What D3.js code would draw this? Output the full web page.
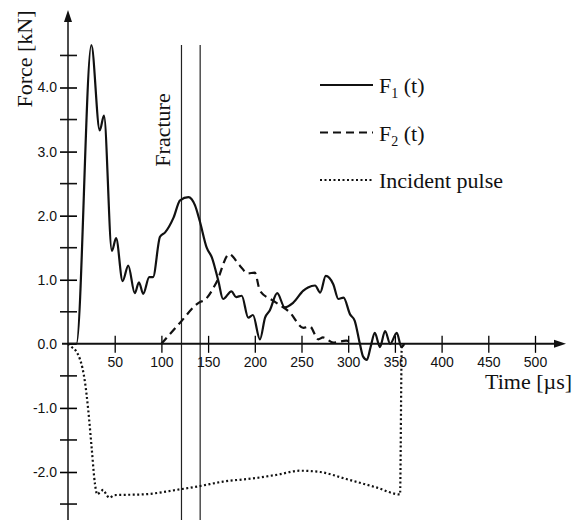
<!DOCTYPE html>
<html>
<head>
<meta charset="utf-8">
<script src="https://cdn.jsdelivr.net/npm/d3@7"></script>
<style>
  body { margin: 0; background: #fff; }
  .tick text { font-family: "Liberation Sans", Arial, sans-serif; font-size: 14px; fill: #111; }
  .serif { font-family: "Liberation Serif", "Times New Roman", serif; fill: #111; }
</style>
</head>
<body>
<div id="chart"></div>
<script>
// F1(t) - solid line
var f1Time = [0, 9, 25, 34, 38.5, 47, 51.5, 58.5, 64.5, 71.5, 76, 80.5, 87, 91, 98.5, 104, 113, 120, 129, 136, 141, 148.5, 154, 161, 166, 175, 180, 186, 193, 198, 205.5, 211, 216, 224, 232, 241, 252, 257, 264.5, 270, 276, 284, 289.5, 295, 302, 307, 312.5, 316, 320, 324, 328.5, 334, 339.5, 345, 352, 357, 360];
var f1Force = [0, 0, 4.66, 3.33, 3.56, 1.45, 1.65, 0.98, 1.22, 0.79, 0.96, 0.78, 1.04, 1.04, 1.67, 1.74, 1.97, 2.24, 2.29, 2.16, 1.92, 1.50, 1.35, 0.98, 0.70, 0.82, 0.73, 0.75, 0.41, 0.45, 0.07, 0.41, 0.52, 0.79, 0.57, 0.64, 0.83, 0.88, 0.91, 0.80, 1.06, 0.93, 0.70, 0.72, 0.46, 0.36, 0.0, -0.2, -0.25, -0.05, 0.17, -0.05, 0.2, 0.0, 0.17, -0.05, 0];

// F2(t) - dashed line
var f2Time = [100, 120, 141, 146, 159, 172.5, 184, 192.5, 200, 205.5, 220, 237.5, 252, 259, 268, 273, 284, 298, 305];
var f2Force = [0, 0.33, 0.65, 0.68, 0.96, 1.40, 1.22, 1.10, 1.11, 0.83, 0.67, 0.49, 0.25, 0.27, 0.07, 0.10, 0.02, 0.05, 0];

// Incident pulse - dotted line
var incTime = [0, 4, 9, 12.8, 15.5, 18.2, 21.8, 25.3, 28.9, 31.4, 34, 37.8, 41, 44.2, 50, 80, 120, 141, 166, 198, 225, 248, 270, 298, 330, 355.5, 357.3, 357.5];
var incForce = [0, -0.05, -0.12, -0.24, -0.38, -0.6, -1.05, -1.62, -2.19, -2.35, -2.32, -2.28, -2.35, -2.40, -2.36, -2.35, -2.27, -2.22, -2.15, -2.10, -2.04, -1.98, -2.0, -2.11, -2.24, -2.35, -0.05, 0];

var xTicks = [50, 100, 150, 200, 250, 300, 350, 400, 450, 500];
var yTicks = [-2, -1, 0, 1, 2, 3, 4];
var yMinorTicks = [-2.5, -1.5, -0.5, 0.5, 1.5, 2.5, 3.5, 4.5];
var fractureTimes = [121.5, 141.5];

var legendItems = [
  { sub: "1", dash: null },
  { sub: "2", dash: "8,5" },
  { label: "Incident pulse", dash: "2,2.5" }
];

var width = 583, height = 520;

var svg = d3.select("#chart").append("svg")
  .attr("width", width)
  .attr("height", height);

var x = d3.scaleLinear().domain([0, 500]).range([68, 535]);
var y = d3.scaleLinear().domain([-2, 4]).range([472, 87.5]);

function zip(ts, fs) {
  return ts.map(function (t, i) { return { t: t, f: fs[i] }; });
}

// fracture lines
svg.selectAll(".fracture")
  .data(fractureTimes)
  .enter().append("line")
  .attr("x1", d => x(d)).attr("x2", d => x(d))
  .attr("y1", 45).attr("y2", height)
  .attr("stroke", "#222").attr("stroke-width", 1.2);

svg.append("text")
  .attr("class", "serif")
  .attr("transform", "translate(" + (x(121.5) - 11) + ",130) rotate(-90)")
  .attr("text-anchor", "middle")
  .style("font-size", "22px")
  .text("Fracture");

// y axis
var yAxis = svg.append("g")
  .attr("transform", "translate(" + x(0) + ",0)")
  .call(d3.axisLeft(y).tickValues(yTicks).tickSize(8).tickPadding(3)
    .tickFormat(d => d.toFixed(1)));
yAxis.select(".domain").remove();
yAxis.selectAll(".tick line").attr("x2", 9).attr("x1", -8).attr("stroke-width", 1.6);
yAxis.selectAll(".tick").filter(d => d === 0).select("line").remove();

svg.append("g")
  .attr("transform", "translate(" + x(0) + ",0)")
  .selectAll("line")
  .data(yMinorTicks)
  .enter().append("line")
  .attr("x1", -8).attr("x2", 9)
  .attr("y1", d => y(d)).attr("y2", d => y(d))
  .attr("stroke", "#111").attr("stroke-width", 1.6);

svg.append("line")
  .attr("x1", x(0)).attr("x2", x(0))
  .attr("y1", 18).attr("y2", height)
  .attr("stroke", "#111").attr("stroke-width", 1.5);
svg.append("path")
  .attr("d", "M" + x(0) + ",10 L" + (x(0) - 4) + ",22 L" + (x(0) + 4) + ",22 Z")
  .attr("fill", "#111");

// x axis
var xAxis = svg.append("g")
  .attr("transform", "translate(0," + y(0) + ")")
  .call(d3.axisBottom(x).tickValues(xTicks).tickSize(9).tickPadding(4));
xAxis.select(".domain").remove();
xAxis.selectAll(".tick line").attr("y1", -8).attr("stroke-width", 1.3);

svg.append("line")
  .attr("x1", 62).attr("x2", 558)
  .attr("y1", y(0)).attr("y2", y(0))
  .attr("stroke", "#111").attr("stroke-width", 2);
svg.append("path")
  .attr("d", "M566," + y(0) + " L554," + (y(0) - 4) + " L554," + (y(0) + 4) + " Z")
  .attr("fill", "#111");

// axis titles
svg.append("text")
  .attr("class", "serif")
  .attr("transform", "translate(32,59) rotate(-90)")
  .attr("text-anchor", "middle")
  .style("font-size", "22px")
  .text("Force [kN]");

svg.append("text")
  .attr("class", "serif")
  .attr("x", 485).attr("y", 389)
  .style("font-size", "22px")
  .text("Time [\u00b5s]");

// series
var line = d3.line()
  .x(d => x(d.t))
  .y(d => y(d.f))
  .curve(d3.curveMonotoneX);

svg.append("path")
  .datum(zip(incTime, incForce))
  .attr("d", line)
  .attr("fill", "none").attr("stroke", "#111")
  .attr("stroke-width", 2.2).attr("stroke-dasharray", "2,2.5");

svg.append("path")
  .datum(zip(f2Time, f2Force))
  .attr("d", line)
  .attr("fill", "none").attr("stroke", "#111")
  .attr("stroke-width", 2.2).attr("stroke-dasharray", "8,5");

svg.append("path")
  .datum(zip(f1Time, f1Force))
  .attr("d", line)
  .attr("fill", "none").attr("stroke", "#111")
  .attr("stroke-width", 2.2);

// legend
var legend = svg.append("g").selectAll("g")
  .data(legendItems)
  .enter().append("g")
  .attr("transform", (d, i) => "translate(320," + (85 + i * 47.5) + ")");

legend.append("line")
  .attr("x1", 0).attr("x2", 53)
  .attr("stroke", "#111").attr("stroke-width", 2)
  .attr("stroke-dasharray", d => d.dash);

legend.each(function (d) {
  var t = d3.select(this).append("text")
    .attr("class", "serif")
    .attr("x", 59).attr("y", 8)
    .style("font-size", "22px");
  if (d.sub) {
    t.append("tspan").text("F");
    t.append("tspan").attr("dy", 5).style("font-size", "14px").text(d.sub);
    t.append("tspan").attr("dy", -5).text(" (t)");
  } else {
    t.text(d.label);
  }
});
</script>
</body>
</html>
